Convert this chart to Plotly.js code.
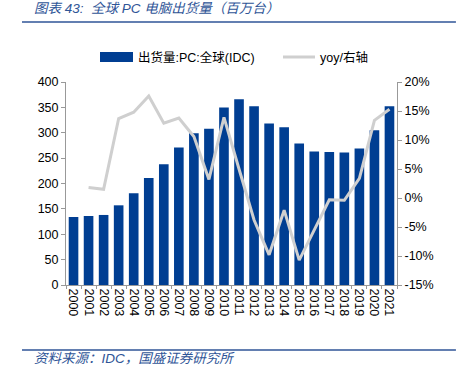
<!DOCTYPE html>
<html>
<head>
<meta charset="utf-8">
<script src="https://cdn.plot.ly/plotly-3.0.1.min.js"></script>
<style>html,body{margin:0;padding:0;background:#fff;}#chart{width:456px;height:367px;}</style>
</head>
<body>
<div id="chart"></div>
<script>
const years = ["2000","2001","2002","2003","2004","2005","2006","2007","2008","2009","2010","2011","2012","2013","2014","2015","2016","2017","2018","2019","2020","2021"];
const shipments = [134,136,138,157,181,211,238,271,299,308,350,366,352,318,311,279,263,262,261,269,305,352];
const yoyYears = ["2001","2002","2003","2004","2005","2006","2007","2008","2009","2010","2011","2012","2013","2014","2015","2016","2017","2018","2019","2020","2021"];
const yoy = [1.8,1.5,13.7,14.8,17.6,12.9,13.8,10.6,3.2,13.9,5.0,-3.8,-9.8,-2.1,-10.7,-5.5,-0.3,-0.4,3.4,13.4,15.3];
const leftTicks = [0,50,100,150,200,250,300,350,400];
const rightTicks = [-15,-10,-5,0,5,10,15,20];
const barName = "出货量:PC:全球(IDC)";
const lineName = "yoy/右轴";
const titleText = "图表 43:  全球 PC 电脑出货量（百万台）";
const sourceText = "资料来源：IDC，国盛证券研究所";

const blue = "#003E92";
const gray = "#CFCFCF";
const titleBlue = "#2F5597";
const font = "Liberation Sans, Arial, sans-serif";
const cjk = "Liberation Sans, Noto Sans CJK SC, sans-serif";

const traces = [
  {type:"bar", x:years, y:shipments, name:barName, marker:{color:blue}, yaxis:"y", showlegend:false},
  {type:"scatter", mode:"lines", x:yoyYears, y:yoy, name:lineName, line:{color:gray, width:3}, yaxis:"y2", showlegend:false}
];

const layout = {
  width:456, height:367,
  margin:{l:66, r:59, t:82, b:82},
  paper_bgcolor:"#fff", plot_bgcolor:"#fff",
  bargap:0.36,
  font:{family:font, size:12, color:"#000"},
  xaxis:{type:"category", tickmode:"array", tickvals:years, ticktext:years, tickangle:90,
         tickfont:{size:12.5, family:font}, showline:true, linecolor:"#999", linewidth:1,
         ticks:"outside", ticklen:3, tickcolor:"#999", tickson:"boundaries", showgrid:false, zeroline:false},
  yaxis:{range:[0,400], tickvals:leftTicks, ticktext:leftTicks.map(String), showline:true, linecolor:"#999", linewidth:1,
         ticks:"outside", ticklen:4, tickcolor:"#999", showgrid:false, zeroline:false, tickfont:{size:12.5, family:font}},
  yaxis2:{overlaying:"y", side:"right", range:[-15,20], tickvals:rightTicks, ticktext:rightTicks.map(v=>v+"%"),
          showline:true, linecolor:"#999", linewidth:1, ticks:"outside", ticklen:4, tickcolor:"#999",
          showgrid:false, zeroline:false, tickfont:{size:12.5, family:font}},
  shapes:[
    {type:"line", xref:"paper", yref:"paper", x0:-0.133, x1:1.178, y0:(367-22-82)/203, y1:(367-22-82)/203, line:{color:titleBlue, width:1.5}},
    {type:"line", xref:"paper", yref:"paper", x0:-0.133, x1:1.178, y0:(367-350-82)/203, y1:(367-350-82)/203, line:{color:titleBlue, width:1.5}},
    {type:"rect", xref:"paper", yref:"paper", x0:(100-66)/331, x1:(133-66)/331, y0:(367-62-82)/203, y1:(367-52-82)/203, fillcolor:blue, line:{width:0}},
    {type:"line", xref:"paper", yref:"paper", x0:(283-66)/331, x1:(315-66)/331, y0:(367-57-82)/203, y1:(367-57-82)/203, line:{color:gray, width:3}}
  ],
  annotations:[
    {xref:"paper", yref:"paper", x:(32-66)/331, y:(367-8-82)/203, xanchor:"left", yanchor:"middle", showarrow:false,
     text:"<i>"+titleText+"</i>", font:{family:cjk, size:13.5, color:titleBlue}},
    {xref:"paper", yref:"paper", x:(32-66)/331, y:(367-358-82)/203, xanchor:"left", yanchor:"middle", showarrow:false,
     text:"<i>"+sourceText+"</i>", font:{family:cjk, size:13.5, color:titleBlue}},
    {xref:"paper", yref:"paper", x:(136-66)/331, y:(367-57-82)/203, xanchor:"left", yanchor:"middle", showarrow:false,
     text:barName, font:{family:cjk, size:12.5, color:"#000"}},
    {xref:"paper", yref:"paper", x:(318-66)/331, y:(367-57-82)/203, xanchor:"left", yanchor:"middle", showarrow:false,
     text:lineName, font:{family:cjk, size:12.5, color:"#000"}}
  ]
};

Plotly.newPlot("chart", traces, layout, {displayModeBar:false, staticPlot:true});
</script>
</body>
</html>
